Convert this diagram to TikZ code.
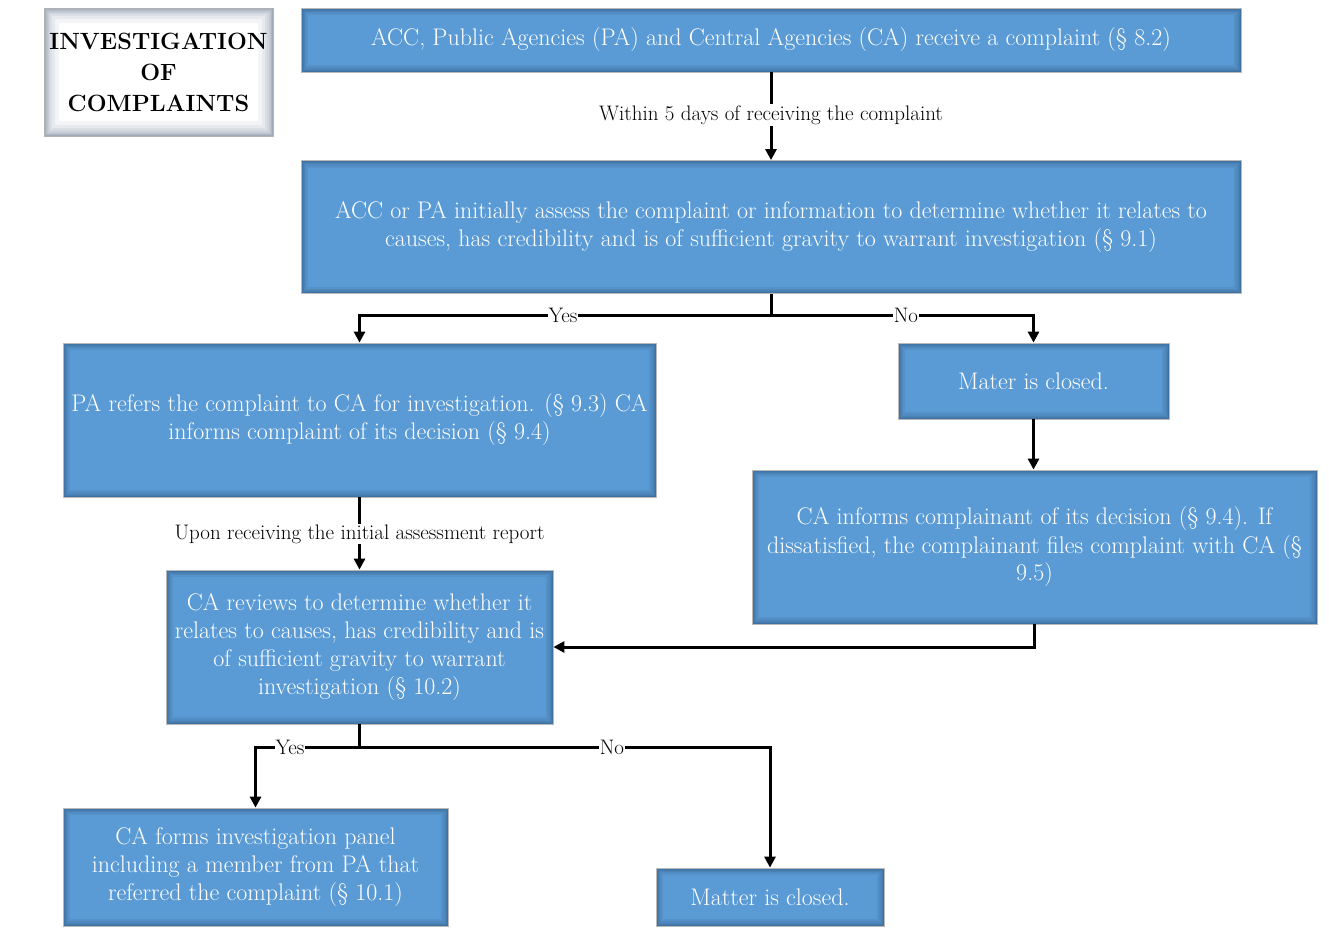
\documentclass[tikz,border=0pt]{standalone}
\usetikzlibrary{arrows.meta}
\definecolor{boxblue}{HTML}{5B9BD5}
\definecolor{boxedge}{HTML}{2A5079}
\definecolor{titleedge}{HTML}{4E6480}
% soft inner shading along a node border, built from nested strokes
\newcommand{\innerglow}[3]{%
  \foreach \w in {#3}{%
    \draw[#1, opacity=#2, line width=\w pt]
      (path picture bounding box.south west) rectangle (path picture bounding box.north east);
  }}
\begin{document}
\begin{tikzpicture}[x=1pt,y=-1pt,
  box/.style={fill=boxblue, draw=gray!55, line width=0.8pt, text=white,
    align=center, inner sep=0pt,
    font=\fontsize{24}{28}\selectfont,
    path picture={\innerglow{boxedge}{0.12}{14,10,7,5,3,2}}},
  titlebox/.style={fill=white, draw=gray!60, line width=0.8pt, text=black,
    align=center, inner sep=0pt,
    font=\bfseries\fontsize{23.5}{31}\selectfont,
    path picture={\innerglow{titleedge}{0.07}{30,22,16,12,9,7,5,4,3,2}}},
  conn/.style={line width=3pt, black},
  arr/.style={conn, -{Triangle[length=11pt,width=11pt]}},
  lbl/.style={fill=white, text=black, inner sep=1pt, font=\fontsize{21}{24}\selectfont}
]
\useasboundingbox (0,0) rectangle (1329,948);

% Boxes
\node[titlebox, minimum width=229, minimum height=128] (title) at (158.5,72)
  {INVESTIGATION\\OF\\COMPLAINTS};
\node[box, minimum width=940, minimum height=64] (a) at (771,40)
  {ACC, Public Agencies (PA) and Central Agencies (CA) receive a complaint (\S\ 8.2)};
\node[box, minimum width=940, minimum height=133] (b) at (771,227)
  {ACC or PA initially assess the complaint or information to determine whether it relates to\\
   causes, has credibility and is of sufficient gravity to warrant investigation (\S\ 9.1)};
\node[box, minimum width=593, minimum height=154] (c) at (359.5,420)
  {PA refers the complaint to CA for investigation. (\S\ 9.3) CA\\
   informs complaint of its decision (\S\ 9.4)};
\node[box, minimum width=271, minimum height=76] (d) at (1033.5,381)
  {Mater is closed.};
\node[box, minimum width=565, minimum height=154] (e) at (1034.5,547)
  {CA informs complainant of its decision (\S\ 9.4). If\\
   dissatisfied, the complainant files complaint with CA (\S\\
   9.5)};
\node[box, minimum width=387, minimum height=154] (f) at (359.5,647)
  {CA reviews to determine whether it\\
   relates to causes, has credibility and is\\
   of sufficient gravity to warrant\\
   investigation (\S\ 10.2)};
\node[box, minimum width=385, minimum height=118] (g) at (255.5,867)
  {CA forms investigation panel\\
   including a member from PA that\\
   referred the complaint (\S\ 10.1)};
\node[box, minimum width=228, minimum height=58] (h) at (770,897)
  {Matter is closed.};

% Junctions
\coordinate (j1) at (771,315);
\coordinate (j2) at (359.5,747);

% Connectors
\draw[arr] (a.south) -- (b.north);
\draw[conn] (b.south) -- (j1);
\draw[arr] (j1) -| (c.north);
\draw[arr] (j1) -| (d.north);
\draw[arr] (d.south) -- (d.south |- e.north);
\draw[arr] (c.south) -- (f.north);
\draw[arr] (e.south) |- (f.east);
\draw[conn] (f.south) -- (j2);
\draw[arr] (j2) -| (g.north);
\draw[arr] (j2) -| (h.north);

% Labels
\node[lbl] (l1) at (771,115) {Within 5 days of receiving the complaint};
\node[lbl] (y1) at (563,315) {Yes};
\node[lbl] (n1) at (906,315) {No};
\node[lbl] (l2) at (359.5,534) {Upon receiving the initial assessment report};
\node[lbl] (y2) at (290,747) {Yes};
\node[lbl] (n2) at (612,747) {No};
\end{tikzpicture}
\end{document}
